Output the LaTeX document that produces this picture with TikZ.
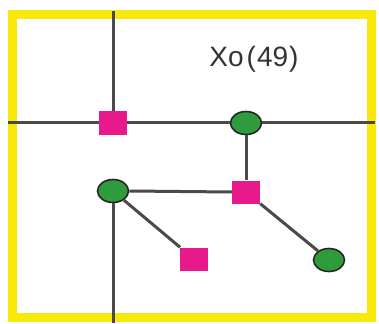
\documentclass[tikz,border=0pt]{standalone}
\usepackage{fontspec}
\setmainfont{Liberation Sans}
\usetikzlibrary{shapes.geometric}
\definecolor{frameY}{HTML}{F7EA0A}
\definecolor{pinkQ}{HTML}{E8198B}
\definecolor{greenC}{HTML}{2E9B3C}
\definecolor{lineG}{HTML}{4A4A4A}
\definecolor{txtG}{HTML}{333333}
\tikzset{
  wire/.style={draw=lineG, line width=3pt},
  sq/.style={rectangle, fill=pinkQ, minimum width=28pt, minimum height=23pt, inner sep=0pt},
  dot/.style={ellipse, fill=greenC, draw=black!85, line width=1.6pt, minimum width=31pt, minimum height=23pt, inner sep=0pt},
}
\begin{document}
\begin{tikzpicture}[x=1pt,y=-1pt]
\useasboundingbox (0,0) rectangle (379,323);
\fill[white] (0,0) rectangle (379,323);
% yellow frame
\draw[frameY, line width=9pt] (12,15) rectangle (371,317);
% free ends
\coordinate (vt) at (113,11);
\coordinate (hl) at (8,123);
\coordinate (hr) at (375,123);
\coordinate (vb) at (113,323);
% nodes
\node[sq] (p1) at (113,123) {};
\node[dot] (g1) at (246,123) {};
\node[sq] (p2) at (246,192) {};
\node[dot] (g2) at (113,191) {};
\node[sq] (p3) at (194,259) {};
\node[dot] (g3) at (329,260) {};
% wires
\path[wire] (vt) -- (p1.north);
\path[wire] (hl) -- (p1.west);
\path[wire] (p1.east) -- (g1.west);
\path[wire] (g1.east) -- (hr);
\path[wire] (g1.south) -- (p2.north);
\path[wire] (g2.east) -- (p2.west);
\path[wire] (g2.south) -- (vb);
\path[wire] (g2) -- (p3);
\path[wire] (p2) -- (g3);
\node[text=txtG, font=\fontsize{28}{32}\selectfont] (lbl) at (254,59) {Xo\hspace{3pt}(\hspace{1pt}49\hspace{1pt})};
\end{tikzpicture}
\end{document}
